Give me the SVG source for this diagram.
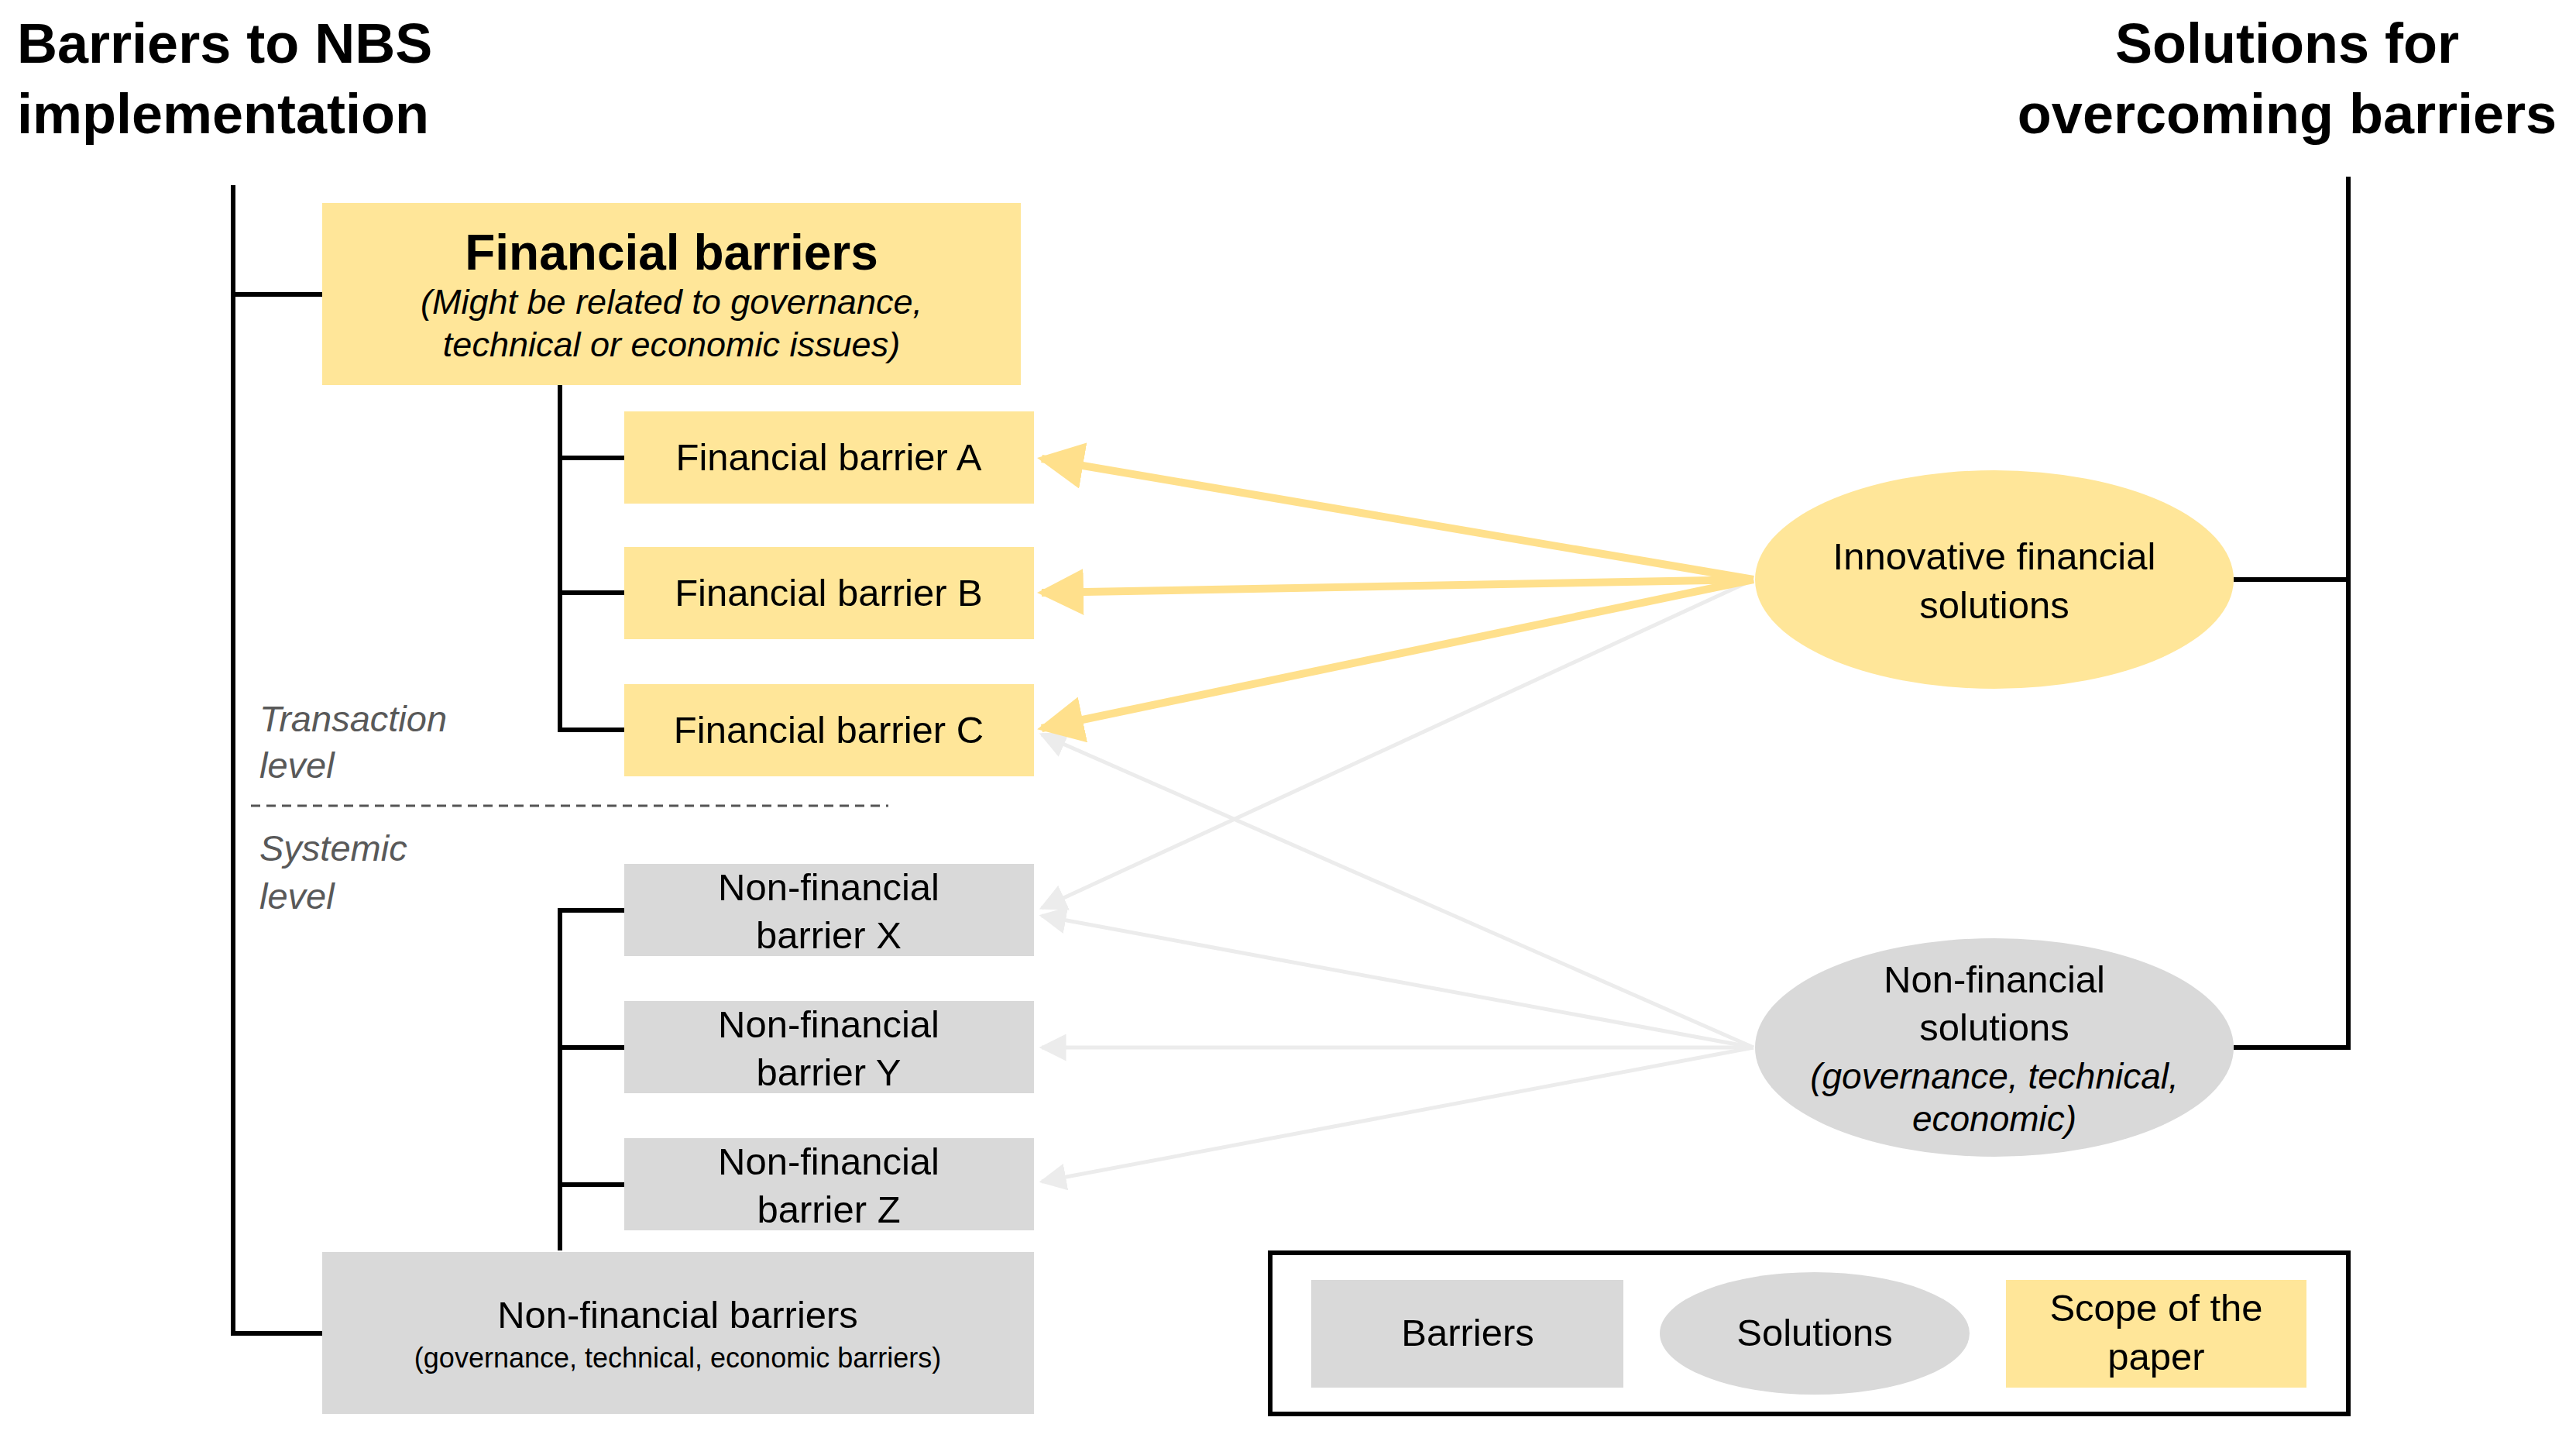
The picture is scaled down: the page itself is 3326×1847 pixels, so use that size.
<svg xmlns="http://www.w3.org/2000/svg" width="3326" height="1847" viewBox="0 0 3326 1847">
<style>
text{font-family:"Liberation Sans",Arial,sans-serif;fill:#000}
.t{font-size:72px;font-weight:bold}
.n{font-size:49px;text-anchor:middle}
.i{font-style:italic}
.g{fill:#595959;font-size:47px;font-style:italic}
.ln{stroke:#000;stroke-width:6;fill:none}
.y{fill:#FFE699}
.gr{fill:#D9D9D9}
.ya{stroke:#FFE08C;stroke-width:10;fill:none;marker-end:url(#ay)}
.ga{stroke:#ECECEC;stroke-width:5;fill:none;marker-end:url(#ag)}
</style>
<defs>
<marker id="ay" viewBox="0 0 10 10" refX="9" refY="5" markerWidth="6" markerHeight="6" orient="auto" markerUnits="strokeWidth"><path d="M0,0L10,5L0,10z" fill="#FFE08C"/></marker>
<marker id="ag" viewBox="0 0 10 10" refX="9" refY="5" markerWidth="7" markerHeight="7" orient="auto" markerUnits="strokeWidth"><path d="M0,0L10,5L0,10z" fill="#ECECEC"/></marker>
</defs>
<rect width="3326" height="1847" fill="#fff"/>
<g id="titles">
<text class="t" x="22" y="81">Barriers to NBS</text>
<text class="t" x="22" y="172">implementation</text>
<text class="t" x="2953" y="81" text-anchor="middle">Solutions for</text>
<text class="t" x="2953" y="172" text-anchor="middle">overcoming barriers</text>
</g>
<g id="connectors">
<path class="ln" d="M301,239V1721H416M301,380H416"/>
<path class="ln" d="M723,497V942H806M723,591H806M723,765H806"/>
<path class="ln" d="M723,1614V1175H806M723,1352H806M723,1529H806"/>
<path class="ln" d="M3032,228V1352H2884M3032,748H2884"/>
<path d="M324,1040H1147" stroke="#555" stroke-width="3" stroke-dasharray="12,8"/>
<path class="ga" d="M2264,748L1345,1172"/>
<path class="ga" d="M2264,1352L1345,948"/>
<path class="ga" d="M2264,1352L1345,1182"/>
<path class="ga" d="M2264,1352L1345,1352"/>
<path class="ga" d="M2264,1352L1345,1525"/>
<path class="ya" d="M2264,748L1345,592"/>
<path class="ya" d="M2264,748L1345,765"/>
<path class="ya" d="M2264,748L1345,940"/>
</g>
<g id="fin">
<rect class="y" x="416" y="262" width="902" height="235"/>
<text class="n" x="867" y="348" style="font-size:64px;font-weight:bold">Financial barriers</text>
<text class="n i" x="867" y="405" style="font-size:45px">(Might be related to governance,</text>
<text class="n i" x="867" y="460" style="font-size:45px">technical or economic issues)</text>
</g>
<g id="finA"><rect class="y" x="806" y="531" width="529" height="119"/><text class="n" x="1070" y="607">Financial barrier A</text></g>
<g id="finB"><rect class="y" x="806" y="706" width="529" height="119"/><text class="n" x="1070" y="782">Financial barrier B</text></g>
<g id="finC"><rect class="y" x="806" y="883" width="529" height="119"/><text class="n" x="1070" y="959">Financial barrier C</text></g>
<g id="levels">
<text class="g" x="335" y="944">Transaction</text><text class="g" x="335" y="1004">level</text>
<text class="g" x="335" y="1111">Systemic</text><text class="g" x="335" y="1173">level</text>
</g>
<g id="nfX"><rect class="gr" x="806" y="1115" width="529" height="119"/><text class="n" x="1070" y="1162">Non-financial</text><text class="n" x="1070" y="1224">barrier X</text></g>
<g id="nfY"><rect class="gr" x="806" y="1292" width="529" height="119"/><text class="n" x="1070" y="1339">Non-financial</text><text class="n" x="1070" y="1401">barrier Y</text></g>
<g id="nfZ"><rect class="gr" x="806" y="1469" width="529" height="119"/><text class="n" x="1070" y="1516">Non-financial</text><text class="n" x="1070" y="1578">barrier Z</text></g>
<g id="nf">
<rect class="gr" x="416" y="1616" width="919" height="209"/>
<text class="n" x="875" y="1714">Non-financial barriers</text>
<text class="n" x="875" y="1765" style="font-size:36px">(governance, technical, economic barriers)</text>
</g>
<g id="solF"><ellipse class="y" cx="2575" cy="748" rx="309" ry="141"/><text class="n" x="2575" y="735">Innovative financial</text><text class="n" x="2575" y="798">solutions</text></g>
<g id="solN"><ellipse class="gr" cx="2575" cy="1352" rx="309" ry="141"/>
<text class="n" x="2575" y="1281">Non-financial</text><text class="n" x="2575" y="1343">solutions</text>
<text class="n i" x="2575" y="1405" style="font-size:46px">(governance, technical,</text><text class="n i" x="2575" y="1460" style="font-size:46px">economic)</text></g>
<g id="legend">
<rect x="1640" y="1617" width="1392" height="208" fill="none" stroke="#000" stroke-width="6"/>
<rect class="gr" x="1693" y="1652" width="403" height="139"/><text class="n" x="1895" y="1737">Barriers</text>
<ellipse class="gr" cx="2343" cy="1721" rx="200" ry="79"/><text class="n" x="2343" y="1737">Solutions</text>
<rect class="y" x="2590" y="1652" width="388" height="139"/><text class="n" x="2784" y="1705">Scope of the</text><text class="n" x="2784" y="1768">paper</text>
</g>
</svg>
